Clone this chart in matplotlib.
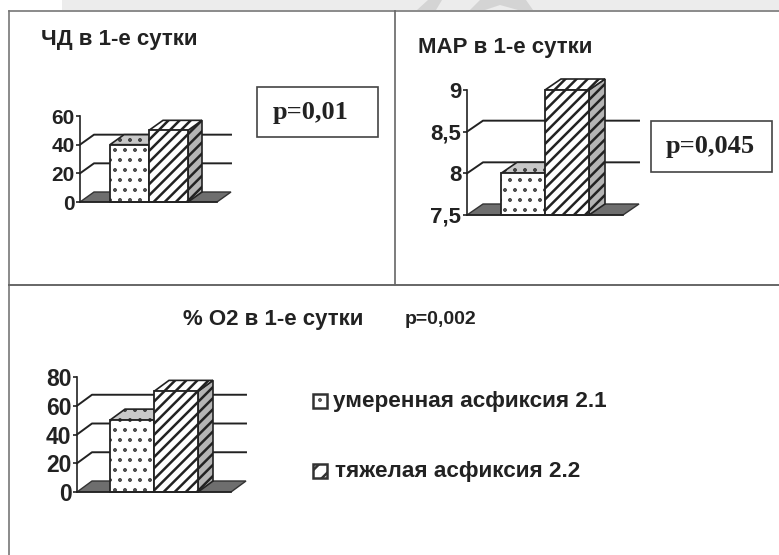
import matplotlib
matplotlib.use('Agg')
import matplotlib.pyplot as plt
import matplotlib.hatch as mh
from matplotlib.patches import Polygon, Rectangle

W, H = 779, 555

# данные
categories = ['умеренная асфиксия 2.1', 'тяжелая асфиксия 2.2']
chd_values = [40, 50]
chd_ticks = [0, 20, 40, 60]
chd_labels = ['0', '20', '40', '60']
map_values = [8, 9]
map_ticks = [7.5, 8, 8.5, 9]
map_labels = ['7,5', '8', '8,5', '9']
o2_values = [50, 70]
o2_ticks = [0, 20, 40, 60, 80]
o2_labels = ['0', '20', '40', '60', '80']


# мелкие точки вместо стандартных
def fine_dots(self, hatch, density):
    self.num_rows = hatch.count('.') * 10
    mh.Circles.__init__(self, hatch, density)


mh.SmallFilledCircles.__init__ = fine_dots
mh.SmallFilledCircles.size = 0.06

plt.rcParams['hatch.linewidth'] = 1.8
plt.rcParams['font.family'] = ['Liberation Sans', 'DejaVu Sans']
INK = '#222222'
fig = plt.figure(figsize=(W / 100, H / 100), dpi=100, facecolor='white')

# фон в пикселях: рамки, серая полоса сверху
bg = fig.add_axes([0, 0, 1, 1])
bg.set_xlim(0, W)
bg.set_ylim(H, 0)
bg.axis('off')
bg.add_patch(Rectangle((62, 0), W - 62, 10, fc='#ececec', ec='none'))
bg.add_patch(Polygon([(417, 10), (428, 0), (442, 0), (436, 10)], fc='#d4d4d4', ec='none'))
bg.add_patch(Polygon([(470, 10), (480, 0), (526, 0), (533, 10), (518, 10), (500, 5), (485, 10)],
                     fc='#d4d4d4', ec='none'))
bg.plot([9, 779], [11, 11], color='#777777', lw=1.2)
bg.plot([9, 9], [11, 555], color='#777777', lw=1.2)
bg.plot([9, 779], [285, 285], color='#666666', lw=1.4)
bg.plot([395, 395], [11, 285], color='#666666', lw=1.2)


def chart(ticks, labels, values, x0, x1, bar_left, bar_w, y_min_px, y_max_px, dx_px, dy_px, fs):
    pos = [x0 / W, 1 - y_min_px / H, (x1 - x0) / W, (y_min_px - y_max_px) / H]
    ax = fig.add_axes(pos)
    ax.patch.set_alpha(0)
    xl = -0.5 - (bar_left - x0) / bar_w
    xr = xl + (x1 - x0) / bar_w
    ax.set_xlim(xl, xr)
    ax.set_ylim(ticks[0], ticks[-1])
    dx = dx_px / bar_w
    dy = dy_px * (ticks[-1] - ticks[0]) / (y_min_px - y_max_px)
    base = ticks[0]

    # пол
    ax.add_patch(Polygon([(xl, base), (xl + dx, base + dy), (xr + dx, base + dy), (xr, base)],
                         fc='#6e6e6e', ec='#333333', lw=1, clip_on=False, zorder=1))
    # линии сетки
    for t in ticks[1:-1]:
        ax.plot([xl, xl + dx, xr + dx], [t, t + dy, t + dy], color='#222222', lw=1.4,
                clip_on=False, zorder=2)
    # столбики
    hatches = ['.', '///']
    for i, v in enumerate(values):
        l, r = i - 0.5, i + 0.5
        top_fc = '#c8c8c8' if i == 0 else 'white'
        ax.add_patch(Polygon([(r, base), (r + dx, base + dy), (r + dx, v + dy), (r, v)],
                             fc='#b4b4b4', ec='#222222', lw=1.2, hatch=hatches[i],
                             clip_on=False, zorder=3 + i))
        ax.add_patch(Polygon([(l, v), (l + dx, v + dy), (r + dx, v + dy), (r, v)],
                             fc=top_fc, ec='#222222', lw=1.2, hatch=hatches[i],
                             clip_on=False, zorder=3 + i))
        ax.bar(i, v - base, 1, bottom=base, fc='white', ec='#222222', lw=1.3,
               hatch=hatches[i], clip_on=False, zorder=3 + i)

    for s in ['top', 'right']:
        ax.spines[s].set_visible(False)
    ax.spines['left'].set_color('#222222')
    ax.spines['left'].set_linewidth(1.2)
    ax.spines['bottom'].set_color('#222222')
    ax.spines['bottom'].set_linewidth(1.2)
    ax.spines['bottom'].set_zorder(6)
    ax.set_xticks([])
    ax.set_yticks(ticks)
    ax.set_yticklabels(labels, fontsize=fs, fontweight='bold', color=INK)
    ax.tick_params(axis='y', length=3, width=1.2, pad=1, color='#222222')
    return ax


chart(chd_ticks, chd_labels, chd_values, 80, 217, 110, 39, 202, 116, 14, 10, 15)
chart(map_ticks, map_labels, map_values, 467, 623, 501, 44, 215, 90, 16, 11, 16)
chart(o2_ticks, o2_labels, o2_values, 77, 231, 110, 44, 492, 377, 15, 11, 16.5)

# заголовки
title_style = dict(fontsize=16, fontweight='bold', color=INK, va='center', ha='left')
bg.text(41, 39, 'ЧД в 1-е сутки', **title_style)
bg.text(418, 47, 'МАР в 1-е сутки', **title_style)
bg.text(183, 319, '% О2 в 1-е сутки', **title_style)
bg.text(405, 319, 'p=0,002', **{**title_style, 'fontsize': 14})

# рамки с p
bg.add_patch(Rectangle((257, 87), 121, 50, fc='white', ec='#444444', lw=1.2))
bg.add_patch(Rectangle((651, 121), 121, 51, fc='white', ec='#444444', lw=1.2))
p_style = dict(fontsize=19, fontweight='bold', color=INK, va='center', ha='left',
               family=['Liberation Serif', 'DejaVu Serif'])
bg.text(273, 112, 'p=0,01', **p_style)
bg.text(666, 146, 'p=0,045', **p_style)

# легенда
leg_hatch = ['.', '//']
leg_y = [394, 464]
leg_x = [333, 335]
for name, h, y, x in zip(categories, leg_hatch, leg_y, leg_x):
    bg.add_patch(Rectangle((313, y), 14, 14, fc='white', ec='#333333', lw=1.8, hatch=h))
    bg.text(x, y + 8, name, fontsize=16.2, fontweight='bold', color=INK, va='center', ha='left')

fig.savefig('out.png', dpi=100)
